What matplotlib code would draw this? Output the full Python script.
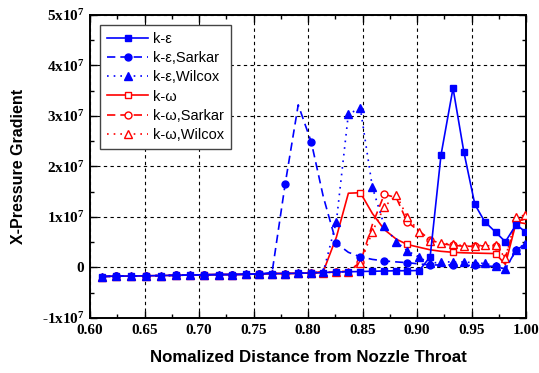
import matplotlib
matplotlib.use('Agg')
import matplotlib.pyplot as plt
from matplotlib.ticker import MultipleLocator, FixedLocator

# shared x grid of the solution points
x = [0.611, 0.624, 0.638, 0.651, 0.665, 0.679, 0.692, 0.705, 0.718, 0.730,
     0.743, 0.755, 0.767, 0.779, 0.791, 0.803, 0.814, 0.826, 0.837, 0.848,
     0.859, 0.870, 0.881, 0.891, 0.902, 0.912, 0.922, 0.933, 0.943, 0.953,
     0.962, 0.972, 0.981, 0.991, 0.999]

# values in units of 1e7
base = [-0.18, -0.17, -0.17, -0.165, -0.16, -0.155, -0.15, -0.145, -0.14, -0.14,
        -0.135, -0.13]

ke = base + [-0.12, -0.12, -0.115, -0.11, -0.10, -0.09, -0.085, -0.08, -0.075, -0.07,
             -0.065, -0.065, -0.06, 0.21, 2.23, 3.55, 2.28, 1.25, 0.91, 0.70,
             0.51, 0.85, 0.71]
ke_sarkar = base + [-0.10, 1.65, 3.22, 2.48, 1.40, 0.48, 0.30, 0.21, 0.16, 0.13,
                    0.11, 0.095, 0.07, 0.05, 0.05, 0.05, 0.04, 0.04, 0.03, 0.02,
                    -0.03, 0.35, 0.45]
ke_wilcox = base + [-0.12, -0.12, -0.11, -0.10, -0.09, 0.91, 3.04, 3.15, 1.59, 0.82,
                    0.51, 0.33, 0.20, 0.08, 0.11, 0.11, 0.11, 0.09, 0.08, 0.03,
                    -0.04, 0.35, 0.47]
kw = base + [-0.12, -0.12, -0.115, -0.11, -0.08, 0.60, 1.47, 1.48, 1.07, 0.75,
             0.56, 0.455, 0.40, 0.35, 0.32, 0.30, 0.29, 0.285, 0.28, 0.275,
             0.06, 0.90, 0.87]
kw_sarkar = base + [-0.12, -0.12, -0.115, -0.11, -0.10, -0.09, -0.07, 0.10, 0.85, 1.45,
                    1.38, 0.90, 0.72, 0.55, 0.47, 0.44, 0.42, 0.42, 0.43, 0.43,
                    0.20, 0.92, 0.95]
kw_wilcox = base + [-0.12, -0.12, -0.115, -0.11, -0.10, -0.09, -0.08, 0.08, 0.71, 1.20,
                    1.435, 1.00, 0.71, 0.52, 0.48, 0.46, 0.43, 0.43, 0.44, 0.44,
                    0.19, 0.99, 1.04]

labels = ['k-\u03b5', 'k-\u03b5,Sarkar', 'k-\u03b5,Wilcox',
          'k-\u03c9', 'k-\u03c9,Sarkar', 'k-\u03c9,Wilcox']
ytick_vals = [-1, 0, 1, 2, 3, 4, 5]
ytick_text = ['-1x10$^7$', '0', '1x10$^7$', '2x10$^7$', '3x10$^7$', '4x10$^7$', '5x10$^7$']

plt.rcParams['mathtext.fontset'] = 'custom'
plt.rcParams['mathtext.rm'] = 'Liberation Serif:bold'
plt.rcParams['mathtext.it'] = 'Liberation Serif:bold'
plt.rcParams['mathtext.bf'] = 'Liberation Serif:bold'

fig = plt.figure(figsize=(5.39, 3.73), dpi=100)
ax = fig.add_axes([0.167, 0.1475, 0.809, 0.8125])

def scaled(v):
    return [a * 1e7 for a in v]

lw = 1.2
# red ones first so the blue curves sit on top
h4, = ax.plot(x, scaled(kw), color='red', lw=lw, marker='s', ms=5, mfc='white',
              mec='red', markevery=(3, 4), label=labels[3], zorder=3)
h5, = ax.plot(x, scaled(kw_sarkar), color='red', lw=lw, ls=(0, (5, 3)), marker='o', ms=5,
              mfc='white', mec='red', markevery=(1, 2), label=labels[4], zorder=3)
h6, = ax.plot(x, scaled(kw_wilcox), color='red', lw=lw, ls=(0, (1, 3)), marker='^', ms=6,
              mfc='white', mec='red', label=labels[5], zorder=3)
h1, = ax.plot(x, scaled(ke), color='blue', lw=lw, marker='s', ms=5, label=labels[0], zorder=4)
h2, = ax.plot(x, scaled(ke_sarkar), color='blue', lw=lw, ls=(0, (5, 3)), marker='o', ms=5,
              markevery=(1, 2), label=labels[1], zorder=4)
h3, = ax.plot(x, scaled(ke_wilcox), color='blue', lw=lw, ls=(0, (1, 3)), marker='^', ms=6,
              label=labels[2], zorder=4)

ax.set_xlim(0.60, 1.00)
ax.set_ylim(-1e7, 5e7)
ax.xaxis.set_major_locator(MultipleLocator(0.05))
ax.xaxis.set_minor_locator(MultipleLocator(0.025))
ax.yaxis.set_major_locator(FixedLocator([v * 1e7 for v in ytick_vals]))
ax.yaxis.set_minor_locator(MultipleLocator(0.5e7))
ax.set_yticklabels(ytick_text)
ax.set_xticklabels(['%.2f' % v for v in ax.get_xticks()])

for lab in ax.get_xticklabels() + ax.get_yticklabels():
    lab.set_fontfamily('Liberation Serif')
    lab.set_fontweight('bold')
    lab.set_fontsize(11)

ax.tick_params(which='both', direction='in', top=True, right=True, width=1)
ax.tick_params(which='major', length=5, pad=4)
ax.tick_params(which='minor', length=3)
ax.grid(True, which='major', color='black', ls=(0, (3, 3)), lw=0.8)
for s in ax.spines.values():
    s.set_linewidth(1.4)

ax.set_xlabel('Nomalized Distance from Nozzle Throat', fontfamily='Liberation Sans',
              fontweight='bold', fontsize=12.2, va='center')
ax.set_ylabel('X-Pressure Gradient', fontfamily='Liberation Sans',
              fontweight='bold', fontsize=11.5, va='center')
ax.xaxis.set_label_coords(0.5, -0.132)
ax.yaxis.set_label_coords(-0.165, 0.5)

leg = ax.legend(handles=[h1, h2, h3, h4, h5, h6], loc='upper left',
                bbox_to_anchor=(0.023, 0.967), borderaxespad=0, numpoints=1,
                handlelength=2.8, fancybox=False, framealpha=1, edgecolor='#444444',
                prop={'family': 'Liberation Sans', 'size': 10.5},
                labelspacing=0.35, handletextpad=0.3, borderpad=0.5)
leg.get_frame().set_linewidth(1.0)
leg.set_zorder(10)

fig.savefig('out.png', dpi=100)
